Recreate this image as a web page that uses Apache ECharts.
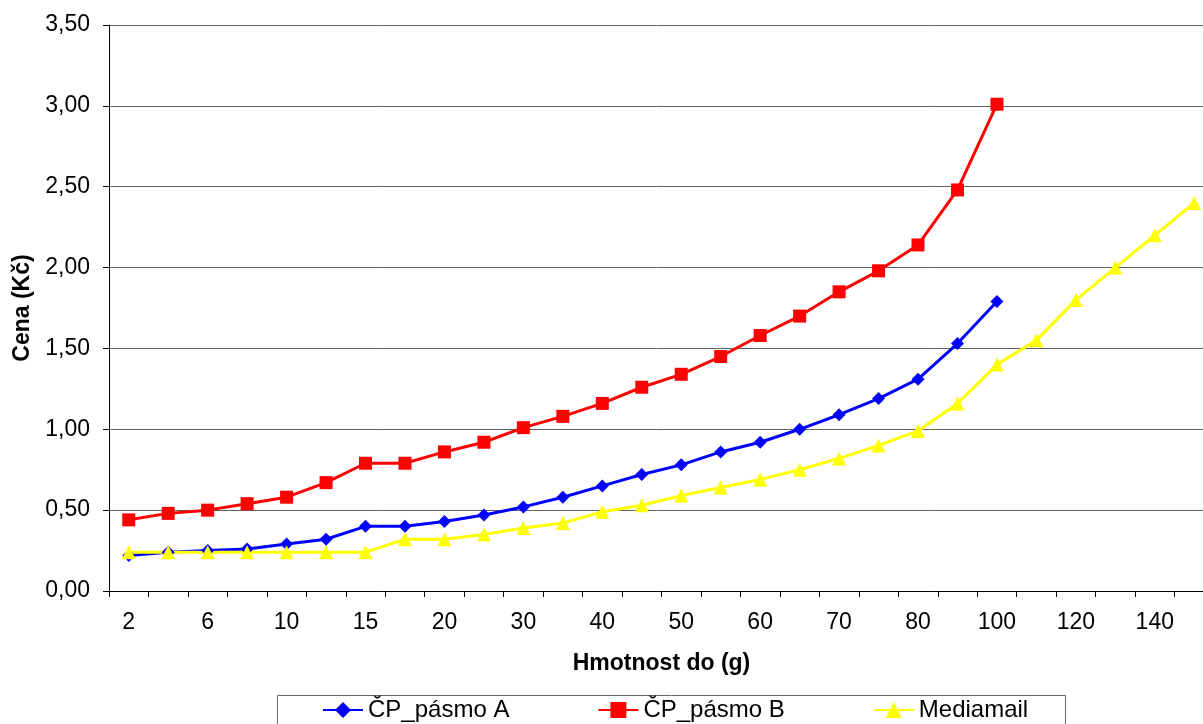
<!DOCTYPE html>
<html>
<head>
<meta charset="utf-8">
<title>Cena podle hmotnosti</title>
<script src="https://cdn.jsdelivr.net/npm/echarts@6/dist/echarts.min.js"></script>
<style>
  html, body { margin: 0; padding: 0; background: #fff; }
  #chart { width: 1203px; height: 724px; }
</style>
</head>
<body>
<div id="chart"></div>
<script>
// Weight classes (g)
const categories = ['2','4','6','8','10','12','15','17','20','25','30','35','40','45','50','55','60','65','70','75','80','90','100','110','120','130','140','150'];

// Prices (Kč) per weight class
const pasmoA = [0.22,0.24,0.25,0.26,0.29,0.32,0.40,0.40,0.43,0.47,0.52,0.58,0.65,0.72,0.78,0.86,0.92,1.00,1.09,1.19,1.31,1.53,1.79];
const pasmoB = [0.44,0.48,0.50,0.54,0.58,0.67,0.79,0.79,0.86,0.92,1.01,1.08,1.16,1.26,1.34,1.45,1.58,1.70,1.85,1.98,2.14,2.48,3.01];
const mediamail = [0.24,0.24,0.24,0.24,0.24,0.24,0.24,0.32,0.32,0.35,0.39,0.42,0.49,0.53,0.59,0.64,0.69,0.75,0.82,0.90,0.99,1.16,1.40,1.55,1.80,2.00,2.20,2.40];

const seriesNames = ['ČP_pásmo A', 'ČP_pásmo B', 'Mediamail'];

const FONT = "'Liberation Sans', Arial, sans-serif";
const fmt = v => v.toFixed(2).replace('.', ',');

const chart = echarts.init(document.getElementById('chart'), null, { renderer: 'canvas' });

function lineSeries(name, data, color, symbol, size) {
  return {
    name: name,
    type: 'line',
    data: data,
    symbol: symbol,
    symbolSize: size,
    lineStyle: { color: color, width: 3 },
    itemStyle: { color: color },
    animation: false
  };
}

chart.setOption({
  backgroundColor: '#ffffff',
  animation: false,
  grid: {
    left: 109,
    top: 25,
    width: 1105,
    height: 566,
    outerBoundsMode: 'none',
    containLabel: false
  },
  xAxis: {
    type: 'category',
    data: categories,
    boundaryGap: true,
    name: 'Hmotnost do (g)',
    nameLocation: 'middle',
    nameGap: 61,
    nameTextStyle: { fontFamily: FONT, fontSize: 23, fontWeight: 'bold', color: '#000' },
    axisLine: { show: true, lineStyle: { color: '#000', width: 1 } },
    axisTick: { show: true, interval: 0, length: 6, lineStyle: { color: '#000' } },
    axisLabel: {
      interval: 1,
      margin: 20,
      fontFamily: FONT,
      fontSize: 23,
      color: '#000'
    },
    splitLine: { show: false }
  },
  yAxis: {
    type: 'value',
    min: 0,
    max: 3.5,
    interval: 0.5,
    name: 'Cena (Kč)',
    nameLocation: 'middle',
    nameGap: 74,
    nameTextStyle: { fontFamily: FONT, fontSize: 23, fontWeight: 'bold', color: '#000' },
    axisLine: { show: true, lineStyle: { color: '#000', width: 1 } },
    axisTick: { show: true, length: 6, lineStyle: { color: '#000' } },
    axisLabel: {
      margin: 19,
      fontFamily: FONT,
      fontSize: 23,
      color: '#000',
      formatter: fmt
    },
    splitLine: { show: true, lineStyle: { color: '#606060', width: 1 } }
  },
  legend: {
    data: seriesNames,
    left: 322,
    top: 698,
    padding: 0,
    itemWidth: 40,
    itemHeight: 20,
    itemGap: 88,
    textStyle: { fontFamily: FONT, fontSize: 24, color: '#000' }
  },
  graphic: [{
    type: 'rect',
    shape: { x: 277.5, y: 695.5, width: 788, height: 50 },
    style: { fill: 'none', stroke: '#666', lineWidth: 1 },
    z: -1
  }],
  series: [
    lineSeries(seriesNames[0], pasmoA, '#0000ff', 'diamond', 13),
    lineSeries(seriesNames[1], pasmoB, '#ff0000', 'rect', 13),
    lineSeries(seriesNames[2], mediamail, '#ffff00', 'triangle', 14)
  ]
});
</script>
</body>
</html>
